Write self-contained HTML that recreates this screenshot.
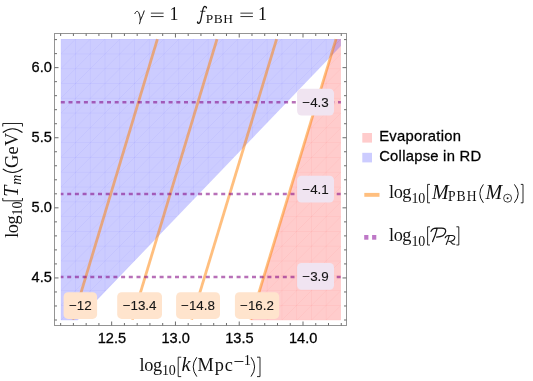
<!DOCTYPE html>
<html><head><meta charset="utf-8"><title>plot</title>
<style>
html,body{margin:0;padding:0;background:#fff;}
body{width:533px;height:381px;overflow:hidden;font-family:"Liberation Sans",sans-serif;}
svg{display:block;will-change:transform;}
.sans{font-family:"Liberation Sans",sans-serif;fill:#000;stroke:#000;stroke-width:0.28px;}
.serif{font-family:"Liberation Serif",serif;fill:#111;}
.it{font-style:italic;}
</style></head><body>
<svg width="533" height="381" viewBox="0 0 533 381">
<rect x="0" y="0" width="533" height="381" fill="#ffffff"/>
<g filter="url(#idf)">
<defs>
<filter id="idf" x="0" y="0" width="533" height="381" filterUnits="userSpaceOnUse"><feOffset dx="0" dy="0"/></filter>
<clipPath id="cb"><polygon points="60.8,39.1 340.9,39.1 340.9,46.03 77.70,320.2 60.8,320.2"/></clipPath>
<clipPath id="cp"><polygon points="336.00,39.1 340.9,39.1 340.9,320.2 250.55,320.2"/></clipPath>
</defs>

<polygon points="336.00,39.1 340.9,39.1 340.9,320.2 250.55,320.2" fill="rgb(255,0,0)" fill-opacity="0.2"/>
<polygon points="60.8,39.1 340.9,39.1 340.9,46.03 77.70,320.2 60.8,320.2" fill="rgb(0,0,255)" fill-opacity="0.2"/>
<path d="M60.80,39.1V320.2M60.8,39.10H340.9M75.54,39.1V320.2M60.8,53.89H340.9M90.28,39.1V320.2M60.8,68.69H340.9M105.03,39.1V320.2M60.8,83.48H340.9M119.77,39.1V320.2M60.8,98.28H340.9M134.51,39.1V320.2M60.8,113.07H340.9M149.25,39.1V320.2M60.8,127.87H340.9M163.99,39.1V320.2M60.8,142.66H340.9M178.74,39.1V320.2M60.8,157.46H340.9M193.48,39.1V320.2M60.8,172.25H340.9M208.22,39.1V320.2M60.8,187.05H340.9M222.96,39.1V320.2M60.8,201.84H340.9M237.71,39.1V320.2M60.8,216.64H340.9M252.45,39.1V320.2M60.8,231.43H340.9M267.19,39.1V320.2M60.8,246.23H340.9M281.93,39.1V320.2M60.8,261.02H340.9M296.67,39.1V320.2M60.8,275.82H340.9M311.42,39.1V320.2M60.8,290.61H340.9M326.16,39.1V320.2M60.8,305.41H340.9M340.90,39.1V320.2M60.8,320.20H340.9M-219.30,320.2L60.80,39.1M-204.56,320.2L75.54,39.1M-189.82,320.2L90.28,39.1M-175.07,320.2L105.03,39.1M-160.33,320.2L119.77,39.1M-145.59,320.2L134.51,39.1M-130.85,320.2L149.25,39.1M-116.11,320.2L163.99,39.1M-101.36,320.2L178.74,39.1M-86.62,320.2L193.48,39.1M-71.88,320.2L208.22,39.1M-57.14,320.2L222.96,39.1M-42.39,320.2L237.71,39.1M-27.65,320.2L252.45,39.1M-12.91,320.2L267.19,39.1M1.83,320.2L281.93,39.1M16.57,320.2L296.67,39.1M31.32,320.2L311.42,39.1M46.06,320.2L326.16,39.1M60.80,320.2L340.90,39.1M75.54,320.2L355.64,39.1M90.28,320.2L370.38,39.1M105.03,320.2L385.13,39.1M119.77,320.2L399.87,39.1M134.51,320.2L414.61,39.1M149.25,320.2L429.35,39.1M163.99,320.2L444.09,39.1M178.74,320.2L458.84,39.1M193.48,320.2L473.58,39.1M208.22,320.2L488.32,39.1M222.96,320.2L503.06,39.1M237.71,320.2L517.81,39.1M252.45,320.2L532.55,39.1M267.19,320.2L547.29,39.1M281.93,320.2L562.03,39.1M296.67,320.2L576.77,39.1M311.42,320.2L591.52,39.1M326.16,320.2L606.26,39.1M340.90,320.2L621.00,39.1" stroke="rgb(0,0,255)" stroke-opacity="0.065" stroke-width="0.7" fill="none" clip-path="url(#cb)"/>
<path d="M60.80,39.1V320.2M60.8,39.10H340.9M75.54,39.1V320.2M60.8,53.89H340.9M90.28,39.1V320.2M60.8,68.69H340.9M105.03,39.1V320.2M60.8,83.48H340.9M119.77,39.1V320.2M60.8,98.28H340.9M134.51,39.1V320.2M60.8,113.07H340.9M149.25,39.1V320.2M60.8,127.87H340.9M163.99,39.1V320.2M60.8,142.66H340.9M178.74,39.1V320.2M60.8,157.46H340.9M193.48,39.1V320.2M60.8,172.25H340.9M208.22,39.1V320.2M60.8,187.05H340.9M222.96,39.1V320.2M60.8,201.84H340.9M237.71,39.1V320.2M60.8,216.64H340.9M252.45,39.1V320.2M60.8,231.43H340.9M267.19,39.1V320.2M60.8,246.23H340.9M281.93,39.1V320.2M60.8,261.02H340.9M296.67,39.1V320.2M60.8,275.82H340.9M311.42,39.1V320.2M60.8,290.61H340.9M326.16,39.1V320.2M60.8,305.41H340.9M340.90,39.1V320.2M60.8,320.20H340.9M-219.30,320.2L60.80,39.1M-204.56,320.2L75.54,39.1M-189.82,320.2L90.28,39.1M-175.07,320.2L105.03,39.1M-160.33,320.2L119.77,39.1M-145.59,320.2L134.51,39.1M-130.85,320.2L149.25,39.1M-116.11,320.2L163.99,39.1M-101.36,320.2L178.74,39.1M-86.62,320.2L193.48,39.1M-71.88,320.2L208.22,39.1M-57.14,320.2L222.96,39.1M-42.39,320.2L237.71,39.1M-27.65,320.2L252.45,39.1M-12.91,320.2L267.19,39.1M1.83,320.2L281.93,39.1M16.57,320.2L296.67,39.1M31.32,320.2L311.42,39.1M46.06,320.2L326.16,39.1M60.80,320.2L340.90,39.1M75.54,320.2L355.64,39.1M90.28,320.2L370.38,39.1M105.03,320.2L385.13,39.1M119.77,320.2L399.87,39.1M134.51,320.2L414.61,39.1M149.25,320.2L429.35,39.1M163.99,320.2L444.09,39.1M178.74,320.2L458.84,39.1M193.48,320.2L473.58,39.1M208.22,320.2L488.32,39.1M222.96,320.2L503.06,39.1M237.71,320.2L517.81,39.1M252.45,320.2L532.55,39.1M267.19,320.2L547.29,39.1M281.93,320.2L562.03,39.1M296.67,320.2L576.77,39.1M311.42,320.2L591.52,39.1M326.16,320.2L606.26,39.1M340.90,320.2L621.00,39.1" stroke="rgb(255,0,0)" stroke-opacity="0.065" stroke-width="0.7" fill="none" clip-path="url(#cp)"/>
<line x1="72.88" y1="319.7" x2="157.40" y2="39.1" stroke="rgb(255,128,0)" stroke-opacity="0.5" stroke-width="2.8"/>
<line x1="132.26" y1="319.7" x2="217.00" y2="39.1" stroke="rgb(255,128,0)" stroke-opacity="0.5" stroke-width="2.8"/>
<line x1="191.63" y1="319.7" x2="276.60" y2="39.1" stroke="rgb(255,128,0)" stroke-opacity="0.5" stroke-width="2.8"/>
<line x1="250.70" y1="319.7" x2="336.00" y2="39.1" stroke="rgb(255,128,0)" stroke-opacity="0.5" stroke-width="2.8"/>
<line x1="60.8" y1="102.3" x2="340.9" y2="102.3" stroke="rgb(128,0,128)" stroke-opacity="0.56" stroke-width="2.5" stroke-dasharray="4 3.7" stroke-dashoffset="0"/>
<line x1="60.8" y1="194.0" x2="340.9" y2="194.0" stroke="rgb(128,0,128)" stroke-opacity="0.56" stroke-width="2.5" stroke-dasharray="4 3.7" stroke-dashoffset="1.3"/>
<line x1="60.8" y1="277.0" x2="340.9" y2="277.0" stroke="rgb(128,0,128)" stroke-opacity="0.56" stroke-width="2.5" stroke-dasharray="4 3.7" stroke-dashoffset="1.3"/>
<rect x="54.5" y="33.5" width="292.00" height="292.00" fill="none" stroke="#949494" stroke-width="1"/>
<path d="M60.65,325.5v-2.5M60.65,33.5v2.5M73.40,325.5v-2.5M73.40,33.5v2.5M86.16,325.5v-2.5M86.16,33.5v2.5M98.92,325.5v-2.5M98.92,33.5v2.5M111.67,325.5v-4.0M111.67,33.5v4.0M124.42,325.5v-2.5M124.42,33.5v2.5M137.18,325.5v-2.5M137.18,33.5v2.5M149.93,325.5v-2.5M149.93,33.5v2.5M162.69,325.5v-2.5M162.69,33.5v2.5M175.45,325.5v-4.0M175.45,33.5v4.0M188.20,325.5v-2.5M188.20,33.5v2.5M200.95,325.5v-2.5M200.95,33.5v2.5M213.71,325.5v-2.5M213.71,33.5v2.5M226.47,325.5v-2.5M226.47,33.5v2.5M239.22,325.5v-4.0M239.22,33.5v4.0M251.97,325.5v-2.5M251.97,33.5v2.5M264.73,325.5v-2.5M264.73,33.5v2.5M277.49,325.5v-2.5M277.49,33.5v2.5M290.24,325.5v-2.5M290.24,33.5v2.5M303.00,325.5v-4.0M303.00,33.5v4.0M315.75,325.5v-2.5M315.75,33.5v2.5M328.50,325.5v-2.5M328.50,33.5v2.5M341.26,325.5v-2.5M341.26,33.5v2.5M54.5,320.00h2.5M346.5,320.00h-2.5M54.5,305.98h2.5M346.5,305.98h-2.5M54.5,291.96h2.5M346.5,291.96h-2.5M54.5,277.94h4.0M346.5,277.94h-4.0M54.5,263.92h2.5M346.5,263.92h-2.5M54.5,249.90h2.5M346.5,249.90h-2.5M54.5,235.88h2.5M346.5,235.88h-2.5M54.5,221.86h2.5M346.5,221.86h-2.5M54.5,207.84h4.0M346.5,207.84h-4.0M54.5,193.82h2.5M346.5,193.82h-2.5M54.5,179.80h2.5M346.5,179.80h-2.5M54.5,165.78h2.5M346.5,165.78h-2.5M54.5,151.76h2.5M346.5,151.76h-2.5M54.5,137.74h4.0M346.5,137.74h-4.0M54.5,123.72h2.5M346.5,123.72h-2.5M54.5,109.70h2.5M346.5,109.70h-2.5M54.5,95.68h2.5M346.5,95.68h-2.5M54.5,81.66h2.5M346.5,81.66h-2.5M54.5,67.64h4.0M346.5,67.64h-4.0M54.5,53.62h2.5M346.5,53.62h-2.5M54.5,39.60h2.5M346.5,39.60h-2.5" stroke="#6c6c6c" stroke-width="1" fill="none"/>
<text class="sans" x="111.87" y="343.4" font-size="14.6" text-anchor="middle">12.5</text>
<text class="sans" x="175.65" y="343.4" font-size="14.6" text-anchor="middle">13.0</text>
<text class="sans" x="239.42" y="343.4" font-size="14.6" text-anchor="middle">13.5</text>
<text class="sans" x="303.19" y="343.4" font-size="14.6" text-anchor="middle">14.0</text>
<text class="sans" x="51.9" y="72.04" font-size="14.6" text-anchor="end">6.0</text>
<text class="sans" x="51.9" y="142.14" font-size="14.6" text-anchor="end">5.5</text>
<text class="sans" x="51.9" y="212.24" font-size="14.6" text-anchor="end">5.0</text>
<text class="sans" x="51.9" y="282.34" font-size="14.6" text-anchor="end">4.5</text>
<rect x="63.6" y="292.3" width="33.50" height="26.60" rx="4.5" ry="4.5" fill="rgb(255,228,205)"/>
<text class="sans" style="stroke-width:0.1px;fill:#161616" x="80.35" y="310.10" font-size="13.4" text-anchor="middle">−12</text>
<rect x="117.2" y="292.3" width="44.80" height="26.60" rx="4.5" ry="4.5" fill="rgb(255,228,205)"/>
<text class="sans" style="stroke-width:0.1px;fill:#161616" x="139.60" y="310.10" font-size="13.4" text-anchor="middle">−13.4</text>
<rect x="176.1" y="292.3" width="43.90" height="26.60" rx="4.5" ry="4.5" fill="rgb(255,228,205)"/>
<text class="sans" style="stroke-width:0.1px;fill:#161616" x="198.05" y="310.10" font-size="13.4" text-anchor="middle">−14.8</text>
<rect x="234.9" y="292.3" width="44.30" height="26.60" rx="4.5" ry="4.5" fill="rgb(255,228,205)"/>
<text class="sans" style="stroke-width:0.1px;fill:#161616" x="257.05" y="310.10" font-size="13.4" text-anchor="middle">−16.2</text>
<rect x="297.1" y="88.8" width="36.90" height="26.70" rx="4.5" ry="4.5" fill="rgb(240,228,241)"/>
<text class="sans" style="stroke-width:0.1px;fill:#161616" x="315.55" y="106.65" font-size="13.4" text-anchor="middle">−4.3</text>
<rect x="297.1" y="175.8" width="36.90" height="26.70" rx="4.5" ry="4.5" fill="rgb(240,228,241)"/>
<text class="sans" style="stroke-width:0.1px;fill:#161616" x="315.55" y="193.65" font-size="13.4" text-anchor="middle">−4.1</text>
<rect x="297.1" y="262.9" width="36.90" height="26.80" rx="4.5" ry="4.5" fill="rgb(240,228,241)"/>
<text class="sans" style="stroke-width:0.1px;fill:#161616" x="315.55" y="280.80" font-size="13.4" text-anchor="middle">−3.9</text>
<rect x="362.3" y="133.0" width="9.7" height="9.6" fill="rgb(255,204,204)"/>
<rect x="362.3" y="152.8" width="9.7" height="9.6" fill="rgb(204,204,255)"/>
<text class="sans" x="379.2" y="141.0" font-size="14.8" letter-spacing="0.28">Evaporation</text>
<text class="sans" x="379.2" y="160.9" font-size="14.8" letter-spacing="0.25">Collapse in RD</text>
<rect x="364.3" y="192.9" width="15.2" height="3.9" fill="rgb(255,191,127)"/>
<rect x="364.2" y="235.0" width="4.2" height="4.7" fill="rgb(190,120,199)"/>
<rect x="372.1" y="235.0" width="4.2" height="4.7" fill="rgb(190,120,199)"/>
<path d="M134.9,13.6C135.6,11.3 137.6,10.6 138.6,12.4C139.6,14.4 140.3,17.4 140.4,20.2C141.6,17.6 143.4,13.8 144.2,10.9M140.4,19.6C140.3,21.4 139.9,22.8 139.5,23.8" fill="none" stroke="#111" stroke-width="1.0" stroke-linecap="round"/>
<path d="M150.9,13.15H163.6M150.9,16.55H163.6" stroke="#111" stroke-width="0.85" fill="none"/>
<text class="serif" x="169.5" y="20.0" font-size="18.0">1</text>
<path d="M206.5,7.7C206.2,6.4 204.6,6.0 203.8,7.2C203.0,8.4 202.8,9.8 202.5,11.2L200.8,19.8C200.4,21.8 199.6,23.4 198.4,23.3C197.8,23.3 197.3,22.8 197.5,22.1" fill="none" stroke="#111" stroke-width="1.2" stroke-linecap="round"/><path d="M200.2,11.3H205.4" stroke="#111" stroke-width="0.8" fill="none"/><circle cx="206.3" cy="7.7" r="0.75" fill="#111"/><circle cx="197.7" cy="22.2" r="0.75" fill="#111"/>
<text class="serif" x="205.7" y="22.7" font-size="13.4" letter-spacing="0.6">PBH</text>
<path d="M240.4,13.15H252.9M240.4,16.55H252.9" stroke="#111" stroke-width="0.85" fill="none"/>
<text class="serif" x="258.1" y="20.0" font-size="18.0">1</text>
<text class="serif" x="139.6" y="371.1" font-size="18.3" letter-spacing="-0.45">log</text>
<text class="serif" x="162.0" y="375.40000000000003" font-size="14.0" letter-spacing="-0.2">10</text>
<path d="M181.2,357.2H178.2V376.6H181.2" fill="none" stroke="#111" stroke-width="0.9"/>
<text class="serif it" x="181.6" y="371.1" font-size="20.4">k</text>
<path d="M196.8,357.2Q189.57999999999998,366.9 196.8,376.6" fill="none" stroke="#111" stroke-width="1.0"/>
<text class="serif" x="197.6" y="371.1" font-size="18.3" letter-spacing="0.85">Mpc</text>
<path d="M234.4,361.5H243.4" stroke="#111" stroke-width="0.9"/>
<text class="serif" x="243.7" y="365.3" font-size="14.4">1</text>
<path d="M251.0,357.2Q258.22,366.9 251.0,376.6" fill="none" stroke="#111" stroke-width="1.0"/>
<path d="M257.0,357.2H260.0V376.6H257.0" fill="none" stroke="#111" stroke-width="0.9"/>
<text class="serif" x="389.0" y="198.4" font-size="18.3" letter-spacing="-0.45">log</text>
<text class="serif" x="411.4" y="202.70000000000002" font-size="14.0" letter-spacing="-0.2">10</text>
<path d="M430.0,184.4H427.6V202.8H430.0" fill="none" stroke="#111" stroke-width="0.9"/>
<text class="serif it" x="432.0" y="198.6" font-size="20">M</text>
<text class="serif" x="447.9" y="201.1" font-size="13.6" letter-spacing="1.1">PBH</text>
<path d="M483.4,184.4Q476.18000000000006,193.60000000000002 483.4,202.8" fill="none" stroke="#111" stroke-width="1.0"/>
<text class="serif it" x="485.6" y="198.6" font-size="20">M</text>
<circle cx="507.6" cy="198.2" r="4.0" fill="none" stroke="#111" stroke-width="0.8"/><circle cx="507.6" cy="198.2" r="0.95" fill="#111"/>
<path d="M514.4,184.4Q522.0,193.60000000000002 514.4,202.8" fill="none" stroke="#111" stroke-width="1.0"/>
<path d="M520.8,184.4H523.0V202.8H520.8" fill="none" stroke="#111" stroke-width="0.9"/>
<text class="serif" x="389.0" y="241.2" font-size="18.3" letter-spacing="-0.45">log</text>
<text class="serif" x="411.4" y="245.5" font-size="14.0" letter-spacing="-0.2">10</text>
<path d="M430.0,226.8H427.6V245.0H430.0" fill="none" stroke="#111" stroke-width="0.9"/>
<path d="M431.0,231.4C431.6,229.4 433.6,228.0 436.4,228.0L441.6,228.0C444.6,228.0 446.0,229.6 445.6,231.6C445.0,234.6 441.6,237.0 436.6,237.0M437.2,228.2C436.2,232.6 434.4,237.6 432.6,241.6" fill="none" stroke="#111" stroke-width="1.25" stroke-linecap="round"/>
<g transform="translate(444.9,235.3) scale(0.66) translate(-430.6,-227.6)"><path d="M431.0,231.4C431.6,229.4 433.6,228.0 436.4,228.0L441.6,228.0C444.6,228.0 446.0,229.6 445.6,231.6C445.0,234.6 441.6,237.0 436.6,237.0M437.2,228.2C436.2,232.6 434.4,237.6 432.6,241.6M438.6,236.9C440.8,238.6 441.4,241.8 445.6,241.2" fill="none" stroke="#111" stroke-width="1.6" stroke-linecap="round"/></g>
<path d="M456.4,226.8H458.8V245.0H456.4" fill="none" stroke="#111" stroke-width="0.9"/>
<g transform="translate(17.5,237.4) rotate(-90) scale(1,1.06)"><text class="serif" x="-0.4" y="0" font-size="18.3" letter-spacing="-0.45">log</text><text class="serif" x="22.0" y="4.3" font-size="14.0" letter-spacing="-0.2">10</text><path d="M39.4,-13.9H36.6V4.7H39.4" fill="none" stroke="#111" stroke-width="0.9"/><text class="serif it" x="40.6" y="0.2" font-size="20">T</text><text class="serif it" x="52.6" y="3.0" font-size="14.0">m</text><path d="M68.6,-13.9Q61.19000000000001,-4.6 68.6,4.7" fill="none" stroke="#111" stroke-width="1.0"/><text class="serif" x="69.5" y="0" font-size="18.3" letter-spacing="0.3">GeV</text><path d="M104.9,-13.9Q112.5,-4.6 104.9,4.7" fill="none" stroke="#111" stroke-width="1.0"/><path d="M110.9,-13.9H113.9V4.7H110.9" fill="none" stroke="#111" stroke-width="0.9"/></g>
</g></svg></body></html>
